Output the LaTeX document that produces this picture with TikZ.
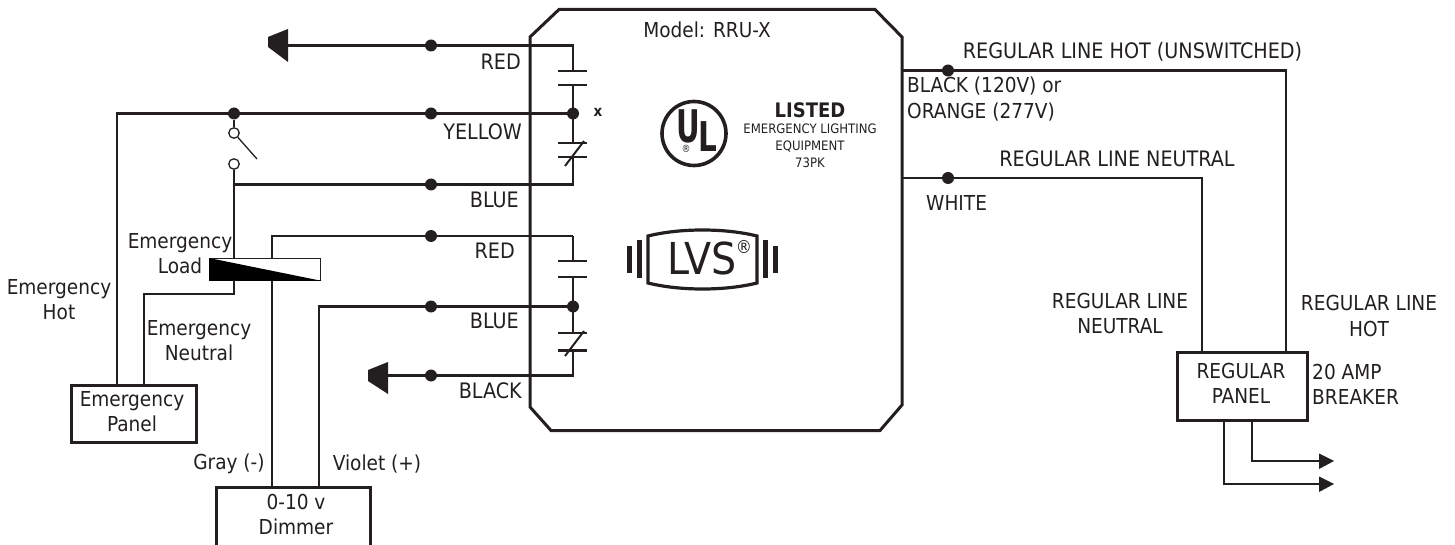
\documentclass[tikz,border=0pt]{standalone}
\usepackage{fontspec}
\setmainfont{DejaVu Sans Condensed}
\definecolor{ink}{HTML}{231F20}
\newcommand{\fs}[2]{\fontsize{#1}{#2}\selectfont}
\tikzset{
  wire/.style={draw=ink,line width=2.8pt},
  thinwire/.style={draw=ink,line width=1.3pt},
  bar/.style={draw=ink,line width=2.4pt},
  frame/.style={draw=ink,line width=3pt,fill=white},
  lbl/.style={text=ink,inner sep=0pt,align=center,font=\fs{20.6}{25}},
  wide/.style={lbl,font=\fs{21.3}{26}},
  tiny/.style={text=ink,inner sep=0pt,align=center,font=\fs{13}{17}},
  dot/.style={circle,fill=ink,draw=none,minimum size=12pt,inner sep=0pt},
  ring/.style={circle,fill=white,draw=ink,line width=1.3pt,minimum size=10.5pt,inner sep=0pt},
  head/.style={fill=ink,draw=none},
}
\begin{document}
\begin{tikzpicture}[x=1pt,y=-1pt]
\useasboundingbox (0,0) rectangle (1455,545);
% enclosure
\draw[frame,fill=none,line join=miter] (530,37) -- (559,9.5) -- (875,9.5) -- (902,37) -- (902,405) -- (880,430.5) -- (551,430.5) -- (530,407) -- cycle;
% named points
\coordinate (ra) at (288,45.5); \coordinate (rb) at (573,45.5);
\coordinate (c1t) at (573,71); \coordinate (c1b) at (573,85);
\coordinate (yl) at (117,113.5); \coordinate (yj) at (573,113.5);
\coordinate (c2t) at (573,143); \coordinate (c2b) at (573,157);
\coordinate (bl) at (234,184.5); \coordinate (br) at (573,184.5);
\coordinate (r2l) at (272,236); \coordinate (r2r) at (573,236);
\coordinate (c3t) at (573,261); \coordinate (c3b) at (573,277);
\coordinate (b2l) at (319,306.5); \coordinate (b2j) at (573,306.5);
\coordinate (c4t) at (573,333); \coordinate (c4b) at (573,350.5);
\coordinate (kl) at (388,375.5); \coordinate (kr) at (573,375.5);
\coordinate (hotl) at (902,70.5); \coordinate (hotr) at (1286,70.5);
\coordinate (neul) at (902,178); \coordinate (neur) at (1202,178);
\coordinate (o1a) at (1252,419); \coordinate (o1b) at (1252,461); \coordinate (o1c) at (1320,461);
\coordinate (o2a) at (1224,419); \coordinate (o2b) at (1224,484); \coordinate (o2c) at (1320,484);
\coordinate (nb) at (234,280); \coordinate (nc) at (234,294); \coordinate (nd) at (144,294);
% boxes
\node[frame,minimum width=125pt,minimum height=57pt,inner sep=0pt,anchor=north west] (ep) at (70,384) {};
\node[frame,minimum width=154pt,minimum height=60pt,inner sep=0pt,anchor=north west] (dim) at (215,486) {};
\node[frame,minimum width=130pt,minimum height=68pt,inner sep=0pt,anchor=north west] (rp) at (1176,351) {};
% relay
\node[draw=ink,line width=1.3pt,fill=white,minimum width=111pt,minimum height=21.5pt,inner sep=0pt,anchor=north west] (load) at (209,258) {};
\fill[black] (load.north west) -- (load.south east) -- (load.south west) -- cycle;
% wires
\draw[wire] (ra) -- (rb) -- (c1t);
\draw[wire] (c1b) -- (yj) -- (c2t);
\draw[wire] (c2b) -- (br) -- (bl);
\draw[wire] (yj) -- (yl) -- (yl |- ep.north);
\draw[wire] (r2r) -- (r2l) -- (r2l |- load.north);
\draw[wire] (r2r) -- (c3t);
\draw[wire] (c3b) -- (b2j) -- (c4t);
\draw[wire] (b2j) -- (b2l) -- (b2l |- dim.north);
\draw[wire] (c4b) -- (kr) -- (kl);
\draw[wire] (r2l |- load.south) -- (r2l |- dim.north);
\draw[wire] (nb) -- (nc) -- (nd) -- (nd |- ep.north);
\draw[wire] (hotl) -- (hotr) -- (hotr |- rp.north);
\draw[wire] (neul) -- (neur) -- (neur |- rp.north);
\draw[wire] (o1a) -- (o1b) -- (o1c);
\draw[wire] (o2a) -- (o2b) -- (o2c);
% contact bars
\foreach \n in {c1t,c1b,c2t,c2b,c3t,c3b,c4t,c4b}{
  \draw[bar] ([xshift=-15pt]\n) -- ([xshift=14pt]\n);}
\draw[bar,line width=2pt] ([shift={(-8,23)}]c2t) -- ([shift={(11,-2)}]c2t);
\draw[bar,line width=2pt] ([shift={(-8,23)}]c4t) -- ([shift={(11,-2)}]c4t);
% switch
\node[dot] (sw0) at (234,113.5) {};
\node[ring] (sw1) at (234,133) {};
\node[ring] (sw2) at (234,164) {};
\coordinate (swe) at (257,159);
\draw[wire] (sw0) -- (sw1);
\draw[wire] (sw2) -- (load.north -| sw2);
\draw[thinwire] (sw1) -- (swe);
% junctions
\foreach \x/\y/\n in {431/45.5/j1,431/113.5/j2,431/184.5/j3,431/236/j4,431/306.5/j5,431/375.5/j6,573/113.5/j7,573/306.5/j8,948/70.5/j9,948/178/j10}{
  \node[dot] (\n) at (\x,\y) {};}
% heads
\fill[head] (ra |- 0,29) -- (268,37) -- (268,47) -- (ra |- 0,62) -- cycle;
\fill[head] (kl |- 0,362) -- (368,370) -- (368,381) -- (kl |- 0,394) -- cycle;
\fill[head] (1319,453.5) -- (1334,461) -- (1319,469) -- cycle;
\fill[head] (1319,476.5) -- (1334,484) -- (1319,492) -- cycle;
% labels
\node[wide,anchor=east] (t1) at (521,62) {RED};
\node[wide,anchor=east] (t2) at (522,132) {YELLOW};
\node[wide,anchor=east] (t3) at (519,200) {BLUE};
\node[wide,anchor=east] (t4) at (515,251) {RED};
\node[wide,anchor=east] (t5) at (519,321) {BLUE};
\node[wide,anchor=east] (t6) at (522,391) {BLACK};
\node[lbl] (t7) at (707,30) {Model: RRU-X};
\node[lbl,font=\bfseries\fs{15}{15}] (t8) at (598,112) {x};
\node[lbl] (t9) at (180,254) {Emergency\\Load};
\node[lbl] (t10) at (59,300) {Emergency\\Hot};
\node[lbl] (t11) at (199,341) {Emergency\\Neutral};
\node[lbl] (t12) at (132,412) {Emergency\\Panel};
\node[lbl] (t13) at (229,464) {Gray (-)};
\node[lbl] (t14) at (377,464) {Violet (+)};
\node[lbl] (t15) at (296,514) {0-10 v\\Dimmer};
\node[wide] (t16) at (1132.5,52) {REGULAR LINE HOT (UNSWITCHED)};
\node[lbl,anchor=north west,align=left,font=\fs{20.6}{26}] (t17) at (907,76.5) {BLACK (120V) or\\ORANGE (277V)};
\node[wide] (t18) at (1117,159) {REGULAR LINE NEUTRAL};
\node[lbl,anchor=west] (t19) at (926,203) {WHITE};
\node[lbl] (t20) at (1120,314) {REGULAR LINE\\NEUTRAL};
\node[lbl] (t21) at (1369,316) {REGULAR LINE\\HOT};
\node[lbl] (t22) at (1241,383) {REGULAR\\PANEL};
\node[lbl,anchor=north west,align=left] (t23) at (1312,364) {20 AMP\\BREAKER};
% UL mark
\node[circle,draw=ink,line width=3.6pt,minimum size=64pt,inner sep=0pt] (ul) at (694,133.5) {};
\node[text=ink,inner sep=0pt,xscale=.72,font=\bfseries\fs{45}{45}] (ulu) at (688,126.5) {U};
\node[text=ink,inner sep=0pt,xscale=.8,font=\bfseries\fs{41}{41}] (ull) at (708,137) {L};
\node[text=ink,inner sep=0pt,font=\fs{10}{10}] (ulr) at (686,149) {®};
\node[lbl,font=\bfseries\fs{20}{20}] (t24) at (810,110) {LISTED};
\node[tiny] (t25) at (810,146) {EMERGENCY LIGHTING\\EQUIPMENT\\73PK};
% LVS mark
\draw[draw=ink,line width=3.2pt,line join=miter] (648,236) .. controls (680,228) and (725,228) .. (757,236) -- (757,283) .. controls (725,291) and (680,291) .. (648,283) -- cycle;
\foreach \xa/\ya/\yb in {627/246/273,637/240/278,763/240/278,773/246/273}{
  \fill[ink] (\xa,\ya) rectangle ++(5,\yb-\ya);}
\node[text=ink,inner sep=0pt,font=\fs{44}{44}] (lvs) at (702,258) {LVS};
\node[text=ink,inner sep=0pt,font=\fs{18}{18}] (lvsr) at (744,247) {®};
\end{tikzpicture}
\end{document}
